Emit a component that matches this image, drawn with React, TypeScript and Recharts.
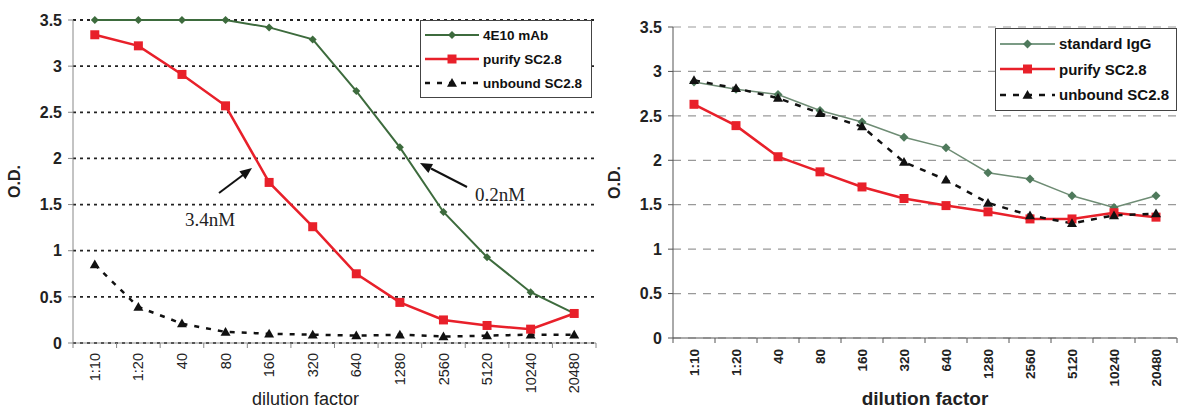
import { LineChart, Line, XAxis, YAxis, CartesianGrid, Legend } from 'recharts';

const categories = ['1:10', '1:20', '40', '80', '160', '320', '640', '1280', '2560', '5120', '10240', '20480'];

// left panel
const leftMab = [3.5, 3.5, 3.5, 3.5, 3.42, 3.29, 2.73, 2.12, 1.42, 0.93, 0.55, 0.32];
const leftPurify = [3.34, 3.22, 2.91, 2.57, 1.74, 1.26, 0.75, 0.44, 0.25, 0.19, 0.15, 0.32];
const leftUnbound = [0.85, 0.39, 0.21, 0.12, 0.1, 0.09, 0.08, 0.09, 0.07, 0.08, 0.09, 0.09];

// right panel
const rightIgG = [2.88, 2.8, 2.74, 2.56, 2.43, 2.26, 2.14, 1.86, 1.79, 1.6, 1.47, 1.6];
const rightPurify = [2.63, 2.39, 2.04, 1.87, 1.7, 1.57, 1.49, 1.42, 1.34, 1.34, 1.41, 1.36];
const rightUnbound = [2.9, 2.81, 2.7, 2.53, 2.38, 1.98, 1.78, 1.52, 1.38, 1.29, 1.38, 1.4];

const yTicks = [0, 0.5, 1, 1.5, 2, 2.5, 3, 3.5];
const xTicks = categories.map((_, i) => i).concat(categories.length);

const leftData = categories.map((c, i) => ({
  pos: i + 0.5,
  cat: c,
  mab: leftMab[i],
  purify: leftPurify[i],
  unbound: leftUnbound[i],
}));

const rightData = categories.map((c, i) => ({
  pos: i + 0.5,
  cat: c,
  igg: rightIgG[i],
  purify: rightPurify[i],
  unbound: rightUnbound[i],
}));

const FONT = 'Arial, "Liberation Sans", sans-serif';

const shapePath = (kind: string, cx: number, cy: number, r: number) => {
  if (kind === 'diamond') return `M${cx},${cy - r}L${cx + r},${cy}L${cx},${cy + r}L${cx - r},${cy}Z`;
  if (kind === 'square') return `M${cx - r},${cy - r}h${2 * r}v${2 * r}h${-2 * r}Z`;
  return `M${cx},${cy - r}L${cx + r},${cy + r * 0.75}L${cx - r},${cy + r * 0.75}Z`;
};

const makeDot = (kind: string, fill: string, r: number) => (p: any) => {
  if (p.cx == null || p.cy == null) return <g key={`e${p.index}`} />;
  return <path key={`${kind}${p.index}`} d={shapePath(kind, p.cx, p.cy, r)} fill={fill} />;
};

const makeXTick = (bandW: number, fontSize: number, bold: boolean) => (p: any) => {
  const i = p.payload.value;
  if (i >= categories.length) return <g />;
  return (
    <g transform={`translate(${p.x + bandW / 2},${p.y})`}>
      <text
        transform="rotate(-90)"
        textAnchor="end"
        dy="0.35em"
        fontSize={fontSize}
        fontWeight={bold ? 'bold' : 'normal'}
        fontFamily={FONT}
        fill="#222"
      >
        {categories[i]}
      </text>
    </g>
  );
};

interface LegendItem {
  name: string;
  color: string;
  width: number;
  dash?: string;
  kind: string;
  r: number;
}

const LegendBox = ({ items, rowH, sampleW, fontSize }: { items: LegendItem[]; rowH: number; sampleW: number; fontSize: number }) => (
  <div style={{ border: '1px solid #444', background: '#fff', padding: '2px 4px', fontFamily: FONT }}>
    {items.map((it) => (
      <div key={it.name} style={{ display: 'flex', alignItems: 'center', height: rowH }}>
        <svg width={sampleW} height={14} style={{ marginRight: 4 }}>
          <line x1={0} y1={7} x2={sampleW} y2={7} stroke={it.color} strokeWidth={it.width} strokeDasharray={it.dash} />
          <path d={shapePath(it.kind, sampleW / 2, 7, it.r)} fill={it.color} />
        </svg>
        <span style={{ fontSize, fontWeight: 'bold', color: '#111', whiteSpace: 'nowrap' }}>{it.name}</span>
      </div>
    ))}
  </div>
);

const leftLegend: LegendItem[] = [
  { name: '4E10 mAb', color: '#3d6b3d', width: 2, kind: 'diamond', r: 4 },
  { name: 'purify SC2.8', color: '#e8202a', width: 2.5, kind: 'square', r: 4.5 },
  { name: 'unbound SC2.8', color: '#111', width: 2.5, dash: '5 7', kind: 'triangle', r: 5 },
];

const rightLegend: LegendItem[] = [
  { name: 'standard IgG', color: '#4f7a5c', width: 1.5, kind: 'diamond', r: 4.5 },
  { name: 'purify SC2.8', color: '#e8202a', width: 2.5, kind: 'square', r: 4.5 },
  { name: 'unbound SC2.8', color: '#111', width: 2.5, dash: '6 7', kind: 'triangle', r: 5 },
];

const App = () => (
  <div style={{ position: 'absolute', left: 0, top: 0, width: 1184, height: 415, background: '#fff', overflow: 'hidden' }}>
    <div style={{ position: 'absolute', left: 0, top: 0 }}>
      <LineChart width={600} height={415} data={leftData} margin={{ top: 20, right: 4, bottom: 0, left: 0 }}>
        <CartesianGrid vertical={false} stroke="#222" strokeWidth={1.8} strokeDasharray="3 4" />
        <XAxis
          dataKey="pos"
          type="number"
          domain={[0, categories.length]}
          ticks={xTicks}
          interval={0}
          height={72}
          stroke="#888"
          tickSize={5}
          tickMargin={5}
          tick={makeXTick(523 / 12, 14.5, false)}
          label={{ value: 'dilution factor', position: 'insideBottom', offset: 10, dx: -29, style: { fontSize: 18, fill: '#222', fontFamily: FONT } }}
        />
        <YAxis
          domain={[0, 3.5]}
          ticks={yTicks}
          width={73}
          stroke="#888"
          tickSize={5}
          tickMargin={6}
          tick={{ fontSize: 16, fontWeight: 'bold', fill: '#222', fontFamily: FONT }}
          label={{ value: 'O.D.', angle: -90, position: 'insideLeft', offset: 14, style: { textAnchor: 'middle', fontSize: 16, fontWeight: 'bold', fill: '#222', fontFamily: FONT } }}
        />
        <Legend
          layout="vertical"
          align="center"
          verticalAlign="middle"
          wrapperStyle={{ left: 420, top: 20, width: 172 }}
          content={() => <LegendBox items={leftLegend} rowH={24} sampleW={54} fontSize={13.5} />}
        />
        <Line type="linear" dataKey="unbound" stroke="#111" strokeWidth={2.5} strokeDasharray="5 7" dot={makeDot('triangle', '#111', 5)} isAnimationActive={false} />
        <Line type="linear" dataKey="mab" stroke="#3d6b3d" strokeWidth={2} dot={makeDot('diamond', '#3d6b3d', 4)} isAnimationActive={false} />
        <Line type="linear" dataKey="purify" stroke="#e8202a" strokeWidth={2.5} dot={makeDot('square', '#e8202a', 4.5)} isAnimationActive={false} />
      </LineChart>
      <svg width={600} height={415} style={{ position: 'absolute', left: 0, top: 0, pointerEvents: 'none' }}>
        <line x1={219} y1={193} x2={243} y2={175} stroke="#111" strokeWidth={2} />
        <polygon points="252,168 245.4,179.2 239.4,171.2" fill="#111" />
        <text x={185} y={226} fontSize={19} fontFamily='"Liberation Serif", "Times New Roman", serif' fill="#222">3.4nM</text>
        <line x1={467} y1={187} x2={431} y2={168.5} stroke="#111" strokeWidth={2} />
        <polygon points="420,163 433,164.1 428.4,173" fill="#111" />
        <text x={475} y={201} fontSize={19} fontFamily='"Liberation Serif", "Times New Roman", serif' fill="#222">0.2nM</text>
      </svg>
    </div>
    <div style={{ position: 'absolute', left: 600, top: 0 }}>
      <LineChart width={584} height={415} data={rightData} margin={{ top: 27, right: 7, bottom: 0, left: 0 }}>
        <CartesianGrid vertical={false} stroke="#999" strokeWidth={1.2} strokeDasharray="8 7" />
        <XAxis
          dataKey="pos"
          type="number"
          domain={[0, categories.length]}
          ticks={xTicks}
          interval={0}
          height={77}
          stroke="#555"
          tickSize={5}
          tickMargin={6}
          tick={makeXTick(504 / 12, 13.5, true)}
          label={{ value: 'dilution factor', position: 'insideBottom', offset: 10, style: { fontSize: 19, fontWeight: 'bold', fill: '#222', fontFamily: FONT } }}
        />
        <YAxis
          domain={[0, 3.5]}
          ticks={yTicks}
          width={73}
          stroke="#555"
          tickSize={5}
          tickMargin={6}
          tick={{ fontSize: 16, fontWeight: 'bold', fill: '#222', fontFamily: FONT }}
          label={{ value: 'O.D.', angle: -90, position: 'insideLeft', offset: 14, style: { textAnchor: 'middle', fontSize: 16, fontWeight: 'bold', fill: '#222', fontFamily: FONT } }}
        />
        <Legend
          layout="vertical"
          align="center"
          verticalAlign="middle"
          wrapperStyle={{ left: 395, top: 28, width: 182 }}
          content={() => <LegendBox items={rightLegend} rowH={25.5} sampleW={55} fontSize={15} />}
        />
        <Line type="linear" dataKey="igg" stroke="#6e8c74" strokeWidth={1.5} dot={makeDot('diamond', '#4f7a5c', 4.5)} isAnimationActive={false} />
        <Line type="linear" dataKey="purify" stroke="#e8202a" strokeWidth={2.5} dot={makeDot('square', '#e8202a', 4.5)} isAnimationActive={false} />
        <Line type="linear" dataKey="unbound" stroke="#111" strokeWidth={2.5} strokeDasharray="6 7" dot={makeDot('triangle', '#111', 5)} isAnimationActive={false} />
      </LineChart>
    </div>
  </div>
);

export default App;
